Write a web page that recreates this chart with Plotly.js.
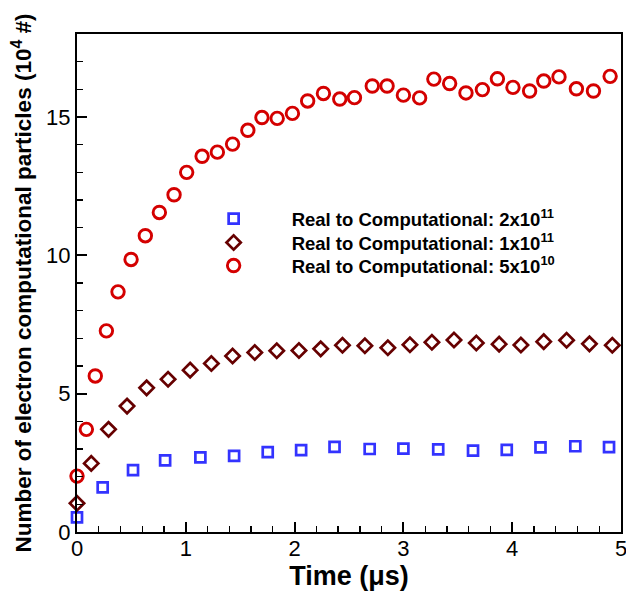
<!DOCTYPE html>
<html>
<head>
<meta charset="utf-8">
<script src="https://cdn.plot.ly/plotly-3.0.1.min.js"></script>
<style>html,body{margin:0;padding:0;background:#fff;}#chart{width:626px;height:593px;}</style>
</head>
<body>
<div id="chart"></div>
<script>
// Real to Computational: 2x10^11 (blue squares)
const timeA = [0, 0.236, 0.515, 0.81, 1.134, 1.444, 1.753, 2.06, 2.367, 2.69, 3.0, 3.32, 3.64, 3.95, 4.26, 4.58, 4.89];
const countA = [0.53, 1.61, 2.24, 2.59, 2.70, 2.75, 2.89, 2.96, 3.08, 3.0, 3.01, 2.99, 2.94, 2.97, 3.06, 3.10, 3.07];

// Real to Computational: 1x10^11 (dark red diamonds)
const timeB = [0, 0.131, 0.29, 0.46, 0.64, 0.837, 1.04, 1.235, 1.43, 1.634, 1.836, 2.04, 2.24, 2.44, 2.646, 2.857, 3.06, 3.262, 3.465, 3.67, 3.88, 4.08, 4.29, 4.5, 4.71, 4.92];
const countB = [1.04, 2.48, 3.71, 4.55, 5.21, 5.52, 5.85, 6.09, 6.36, 6.49, 6.55, 6.56, 6.62, 6.75, 6.73, 6.66, 6.77, 6.86, 6.94, 6.83, 6.79, 6.76, 6.88, 6.93, 6.80, 6.75];

// Real to Computational: 5x10^10 (red circles)
const timeC = [0, 0.086, 0.168, 0.27, 0.377, 0.497, 0.628, 0.757, 0.892, 1.008, 1.15, 1.29, 1.43, 1.57, 1.70, 1.84, 1.98, 2.12, 2.265, 2.415, 2.55, 2.714, 2.85, 3.0, 3.149, 3.28, 3.425, 3.575, 3.726, 3.864, 4.007, 4.16, 4.29, 4.43, 4.59, 4.747, 4.9];
const countC = [2.02, 3.71, 5.64, 7.27, 8.68, 9.85, 10.71, 11.55, 12.19, 13.0, 13.58, 13.73, 14.02, 14.52, 14.98, 14.95, 15.13, 15.58, 15.85, 15.65, 15.70, 16.12, 16.12, 15.79, 15.69, 16.37, 16.21, 15.87, 15.99, 16.38, 16.07, 15.94, 16.30, 16.45, 16.02, 15.94, 16.47];

const seriesNames = [
  'Real to Computational: 2x10<sup>11</sup>',
  'Real to Computational: 1x10<sup>11</sup>',
  'Real to Computational: 5x10<sup>10</sup>'
];
const xTicks = [0, 1, 2, 3, 4, 5];
const yTicks = [0, 5, 10, 15];

const FONT = 'Liberation Sans, Arial, Helvetica, sans-serif';

const traces = [
  {x: timeA, y: countA, name: seriesNames[0], legend: 'legend', type: 'scatter', mode: 'markers', cliponaxis: false,
   marker: {symbol: 'square-open', size: 10, color: '#3333ff', line: {width: 2.7, color: '#3333ff'}}},
  {x: timeB, y: countB, name: seriesNames[1], legend: 'legend2', type: 'scatter', mode: 'markers', cliponaxis: false,
   marker: {symbol: 'diamond-open', size: 11, color: '#660000', line: {width: 2.7, color: '#660000'}}},
  {x: timeC, y: countC, name: seriesNames[2], legend: 'legend3', type: 'scatter', mode: 'markers', cliponaxis: false,
   marker: {symbol: 'circle-open', size: 12.5, color: '#d40000', line: {width: 2.9, color: '#d40000'}}}
];

const axisCommon = {
  showgrid: false, zeroline: false, showline: true, mirror: true,
  linecolor: '#000', linewidth: 2, ticks: 'inside', tickcolor: '#000',
  ticklen: 10, tickwidth: 2, ticklabeloverflow: 'allow',
  tickfont: {family: FONT, size: 22, color: '#000'}
};

function legendAt(yPaper) {
  return {
    x: 0.1813, y: yPaper, xanchor: 'left', yanchor: 'middle',
    bgcolor: 'rgba(0,0,0,0)', borderwidth: 0,
    itemwidth: 106, tracegroupgap: 0,
    font: {family: FONT, size: 18.5, color: '#000', weight: 'bold'}
  };
}

const layout = {
  width: 626, height: 593,
  margin: {l: 77, r: 5, t: 34, b: 61},
  paper_bgcolor: '#fff', plot_bgcolor: '#fff',
  showlegend: true,
  legend: legendAt((532 - 219) / 498),
  legend2: legendAt((532 - 243) / 498),
  legend3: legendAt((532 - 266) / 498),
  xaxis: Object.assign({}, axisCommon, {
    range: [0, 5], tickvals: xTicks, ticktext: xTicks.map(String),
    ticklabelstandoff: -4,
    minor: {ticks: 'inside', ticklen: 6, tickwidth: 1.3, tickcolor: '#000', dtick: 0.2, tick0: 0},
    title: {text: '<b>Time (μs)</b>', standoff: 2,
            font: {family: FONT, size: 27, color: '#000'}}
  }),
  yaxis: Object.assign({}, axisCommon, {
    range: [0, 18], tickvals: yTicks, ticktext: yTicks.map(String),
    minor: {ticks: 'inside', ticklen: 6, tickwidth: 1.3, tickcolor: '#000', dtick: 1, tick0: 0},
    title: {text: '<b>Number of electron computational particles (10<sup>4</sup> #)</b>', standoff: 8,
            font: {family: FONT, size: 22.5, color: '#000'}}
  })
};

Plotly.newPlot('chart', traces, layout, {displayModeBar: false, staticPlot: true});
</script>
</body>
</html>
